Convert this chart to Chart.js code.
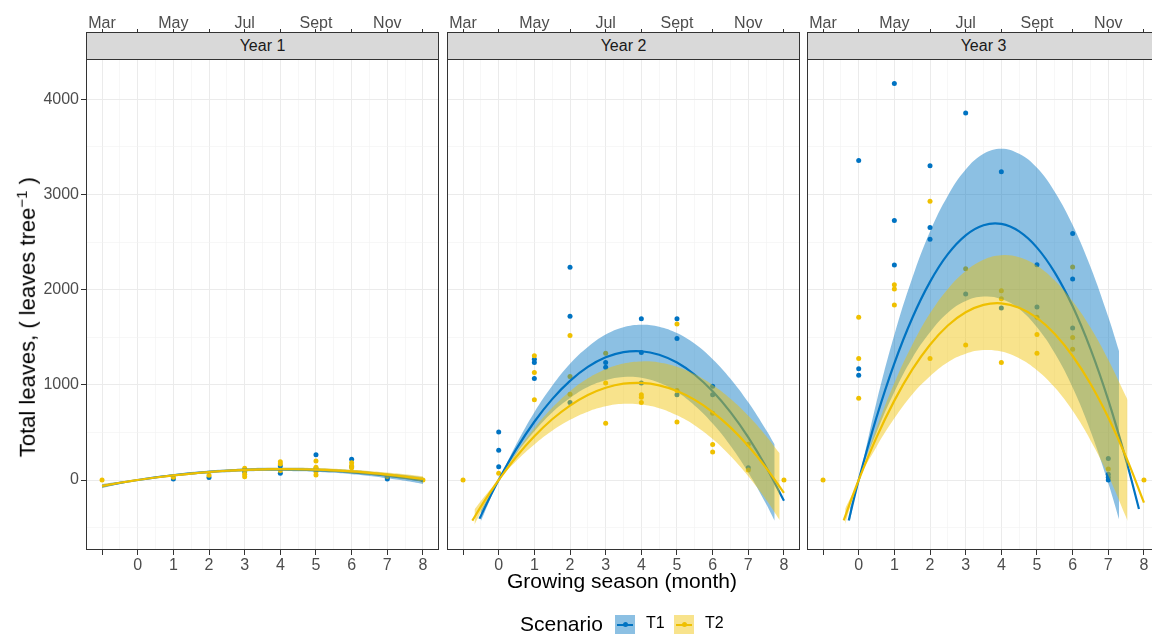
<!DOCTYPE html>
<html>
<head>
<meta charset="utf-8">
<script src="https://cdn.jsdelivr.net/npm/chart.js@4.4.1/dist/chart.umd.min.js"></script>
<style>
  html, body { margin: 0; padding: 0; background: #fff; overflow: hidden; }
  body { width: 1152px; height: 635px; position: relative; font-family: "Liberation Sans", Arial, sans-serif; }
  canvas { position: absolute; top: 0; }
  .strip { position: absolute; top: 32px; height: 28px; box-sizing: border-box; background: #D9D9D9;
           border: 1px solid #333; text-align: center; line-height: 26px; font-size: 16px; color: #1A1A1A; }
  .frame { position: absolute; top: 59px; height: 491px; box-sizing: border-box; border: 1px solid #333; }
  .title { position: absolute; font-size: 21px; color: #000; white-space: nowrap; }
  .key { position: absolute; top: 615px; width: 20px; height: 19px; }
  .key .ln { position: absolute; left: 2px; right: 2px; top: 8.5px; height: 2px; }
  .key .dt { position: absolute; left: 7.5px; top: 7px; width: 5px; height: 5px; border-radius: 50%; }
  .lab { position: absolute; top: 614px; font-size: 16px; color: #000; }
</style>
</head>
<body>
<canvas id="p1" width="441" height="600" style="left:0px"></canvas>
<canvas id="p2" width="363" height="600" style="left:439px"></canvas>
<canvas id="p3" width="363" height="600" style="left:799px"></canvas>
<div id="overlay"></div>

<div class="title" style="left:507px; top:569px;">Growing season (month)</div>
<div class="title" style="left:-173px; top:303px; width:400px; text-align:center; font-size:22px; transform:rotate(-90deg);">Total leaves, ( leaves tree<sup style="font-size:15px">−1</sup> )</div>

<div class="title" style="left:520px; top:612px;">Scenario</div>
<div class="key" style="left:615px; background:rgba(0,115,194,0.45)"><div class="ln" style="background:#0073C2"></div><div class="dt" style="background:#0073C2"></div></div>
<div class="lab" style="left:646px;">T1</div>
<div class="key" style="left:674px; background:rgba(239,192,0,0.45)"><div class="ln" style="background:#EFC000"></div><div class="dt" style="background:#EFC000"></div></div>
<div class="lab" style="left:705px;">T2</div>

<script>
// Axis ticks
const xGrid = [-1, -0.5, 0, 0.5, 1, 1.5, 2, 2.5, 3, 3.5, 4, 4.5, 5, 5.5, 6, 6.5, 7, 7.5, 8];
const topTicks = [-1, 0, 1, 2, 3, 4, 5, 6, 7, 8];
const monthLabels = ['Mar', '', 'May', '', 'Jul', '', 'Sept', '', 'Nov', ''];
const yGrid = [-500, 0, 500, 1000, 1500, 2000, 2500, 3000, 3500, 4000, 4500];
const panelTitles = ['Year 1', 'Year 2', 'Year 3'];

// Observations [month, leaves]
const y1T1Points = [[1, 10], [2, 25], [3, 88], [4, 147], [4, 70], [5, 266], [5, 120], [6, 217], [6, 140], [7, 10], [7, 25]];
const y1T2Points = [[-1, 0], [1, 30], [2, 50], [3, 123], [3, 100], [3, 60], [3, 35], [4, 193], [4, 168], [4, 100],
                    [5, 200], [5, 133], [5, 88], [5, 53], [6, 180], [6, 150], [6, 130], [7, 40], [8, 0]];
const y2T1Points = [[0, 505], [0, 312], [0, 140], [1, 1270], [1, 1235], [1, 1067], [2, 2235], [2, 1720], [2, 814],
                    [3, 1235], [3, 1186], [4, 1695], [4, 1340], [4, 1018], [5, 1695], [5, 1488], [5, 895],
                    [6, 986], [6, 895], [7, 130]];
const y2T2Points = [[-1, 0], [0, 70], [1, 1305], [1, 1130], [1, 842], [2, 1519], [2, 1088], [2, 902], [3, 1333],
                    [3, 1018], [3, 597], [4, 895], [4, 870], [4, 814], [5, 1639], [5, 940], [5, 610],
                    [6, 702], [6, 372], [6, 295], [7, 375], [7, 105], [8, 0]];
const y3T1Points = [[0, 3358], [0, 1168], [0, 1102], [1, 4165], [1, 2726], [1, 2260], [2, 3302], [2, 2653], [2, 2530],
                    [3, 3856], [3, 1954], [4, 3239], [4, 1807], [5, 2263], [5, 1818], [6, 2589], [6, 2112],
                    [6, 1596], [7, 225], [7, 60], [7, 28], [7, 0]];
const y3T2Points = [[-1, 0], [0, 1709], [0, 1277], [0, 860], [1, 2052], [1, 2007], [1, 1839], [2, 2930], [2, 1277],
                    [3, 2221], [3, 1418], [4, 1989], [4, 1905], [4, 1235], [5, 1709], [5, 1530], [5, 1333],
                    [6, 2239], [6, 1498], [6, 1375], [7, 116], [8, 0]];

// Fitted curves and confidence bands
const y1FitX  = [-1, -0.5, 0, 0.5, 1, 1.5, 2, 2.5, 3, 3.5, 4, 4.5, 5, 5.5, 6, 6.5, 7, 7.5, 8];
const y1T1Fit = [-64, -30, 0, 27, 50, 69, 85, 97, 106, 111, 112, 110, 104, 95, 82, 66, 45, 22, -6];
const y1T1Lo  = [-86, -42, -3, 19, 38, 55, 70, 81, 90, 94, 95, 92, 85, 75, 60, 42, 18, -9, -42];
const y1T1Hi  = [-42, -18, 3, 35, 62, 83, 100, 113, 122, 128, 129, 128, 123, 115, 104, 90, 72, 53, 30];
const y1T2Fit = [-63, -29, 0, 26, 49, 68, 84, 97, 106, 112, 114, 113, 109, 101, 90, 75, 57, 36, 11];
const y1T2Lo  = [-81, -39, -3, 19, 39, 56, 71, 83, 92, 97, 99, 98, 93, 84, 72, 55, 35, 11, -17];
const y1T2Hi  = [-45, -19, 3, 33, 59, 80, 97, 111, 120, 127, 129, 128, 125, 118, 108, 95, 79, 61, 39];

const y2T1FitX = [-0.54, -0.25, 0, 0.5, 1, 1.5, 2, 2.5, 3, 3.5, 4, 4.5, 5, 5.5, 6, 6.5, 7, 7.5, 8];
const y2T1Fit  = [-407, -182, 0, 329, 612, 850, 1042, 1188, 1289, 1344, 1353, 1316, 1234, 1106, 932, 713, 448, 137, -219];
const y2T1BandX = [-0.5, -0.25, 0, 0.5, 1, 1.5, 2, 2.5, 3, 3.5, 4, 4.5, 5, 5.5, 6, 6.5, 7, 7.5, 7.74];
const y2T1Lo   = [-433, -212, -5, 278, 512, 710, 862, 978, 1049, 1082, 1074, 1021, 924, 781, 594, 361, 80, -251, -428];
const y2T1Hi   = [-317, -152, 5, 380, 712, 990, 1222, 1398, 1529, 1606, 1632, 1611, 1544, 1431, 1270, 1065, 816, 525, 372];
const y2T2FitX = [-0.74, -0.5, -0.25, 0, 0.5, 1, 1.5, 2, 2.5, 3, 3.5, 4, 4.5, 5, 5.5, 6, 6.5, 7, 7.5, 8];
const y2T2Fit  = [-427, -280, -136, 0, 247, 459, 638, 782, 893, 969, 1012, 1020, 995, 935, 842, 714, 553, 357, 128, -136];
const y2T2BandX = [-0.68, -0.5, -0.25, 0, 0.5, 1, 1.5, 2, 2.5, 3, 3.5, 4, 4.5, 5, 5.5, 6, 6.5, 7, 7.5, 7.88];
const y2T2Lo   = [-470, -340, -166, -5, 202, 374, 518, 632, 718, 774, 800, 794, 755, 680, 574, 431, 253, 40, -207, -420];
const y2T2Hi   = [-310, -220, -106, 5, 292, 544, 758, 932, 1068, 1164, 1224, 1246, 1235, 1190, 1110, 997, 853, 674, 463, 280];

const y3T1FitX = [-0.28, 0, 0.5, 1, 1.5, 2, 2.5, 3, 3.5, 4, 4.5, 5, 5.5, 6, 6.5, 7, 7.5, 7.86];
const y3T1Fit  = [-425, 0, 659, 1226, 1700, 2082, 2373, 2571, 2677, 2691, 2612, 2442, 2179, 1825, 1378, 839, 207, -304];
const y3T1BandX = [-0.25, 0, 0.5, 1, 1.5, 2, 2.5, 3, 3.5, 4, 4.5, 5, 5.5, 6, 6.5, 7, 7.3];
const y3T1Lo   = [-440, -5, 499, 925, 1280, 1552, 1758, 1880, 1927, 1901, 1797, 1604, 1331, 971, 516, -34, -413];
const y3T1Hi   = [-300, 5, 819, 1527, 2120, 2612, 2988, 3262, 3427, 3481, 3427, 3280, 3027, 2679, 2240, 1712, 1355];
const y3T2FitX = [-0.42, 0, 0.5, 1, 1.5, 2, 2.5, 3, 3.5, 4, 4.5, 5, 5.5, 6, 6.5, 7, 7.5, 8];
const y3T2Fit  = [-424, 0, 448, 834, 1159, 1421, 1623, 1762, 1840, 1856, 1810, 1703, 1534, 1303, 1011, 656, 241, -237];
const y3T2BandX = [-0.38, 0, 0.5, 1, 1.5, 2, 2.5, 3, 3.5, 4, 4.5, 5, 5.5, 6, 6.5, 7, 7.5, 7.54];
const y3T2Lo   = [-462, -5, 350, 648, 899, 1091, 1238, 1327, 1365, 1350, 1280, 1154, 971, 727, 419, 48, -392, -430];
const y3T2Hi   = [-302, 5, 546, 1020, 1419, 1751, 2008, 2197, 2315, 2362, 2340, 2252, 2097, 1879, 1603, 1264, 874, 840];

const T1_COLOR = '#0073C2';
const T2_COLOR = '#EFC000';
const T1_FILL = 'rgba(0,115,194,0.45)';
const T2_FILL = 'rgba(239,192,0,0.45)';
const FONT = { family: '"Liberation Sans", Arial, sans-serif', size: 16 };

// panel geometry (left edge of plot box, width)
const panelLeft = [86, 447, 807];
const panelWidth = 353;

function xy(xs, ys) {
    return xs.map((x, i) => ({ x: x, y: ys[i] }));
}

function pts(list) {
    return list.map(p => ({ x: p[0], y: p[1] }));
}

function buildDatasets(s) {
    return [
        { data: xy(s.t1BandX, s.t1Hi), fill: '+1', backgroundColor: T1_FILL, borderWidth: 0, pointRadius: 0, tension: 0.4, order: 7 },
        { data: xy(s.t1BandX, s.t1Lo), fill: false, borderWidth: 0, pointRadius: 0, tension: 0.4, order: 6 },
        { data: xy(s.t1FitX, s.t1Fit), fill: false, borderColor: T1_COLOR, borderWidth: 2.2, pointRadius: 0, tension: 0.4, order: 5 },
        { data: xy(s.t2BandX, s.t2Hi), fill: '+1', backgroundColor: T2_FILL, borderWidth: 0, pointRadius: 0, tension: 0.4, order: 4 },
        { data: xy(s.t2BandX, s.t2Lo), fill: false, borderWidth: 0, pointRadius: 0, tension: 0.4, order: 3 },
        { data: xy(s.t2FitX, s.t2Fit), fill: false, borderColor: T2_COLOR, borderWidth: 2.2, pointRadius: 0, tension: 0.4, order: 2 },
        { data: pts(s.t1Points), showLine: false, pointRadius: 2.5, pointBorderWidth: 0, backgroundColor: T1_COLOR, borderColor: T1_COLOR, order: 9 },
        { data: pts(s.t2Points), showLine: false, pointRadius: 2.5, pointBorderWidth: 0, backgroundColor: T2_COLOR, borderColor: T2_COLOR, order: 8 }
    ];
}

function makePanel(canvasId, series, showY) {
    const yWidth = showY ? 86 : 8;
    const ctx = document.getElementById(canvasId).getContext('2d');
    new Chart(ctx, {
        type: 'line',
        data: { datasets: buildDatasets(series) },
        options: {
            responsive: false,
            animation: false,
            layout: { padding: { left: 0, right: 2, top: 0, bottom: 0 }, autoPadding: false },
            plugins: { legend: { display: false }, tooltip: { enabled: false } },
            scales: {
                x: {
                    type: 'linear', position: 'bottom', min: -1.45, max: 8.45,
                    afterBuildTicks: s => { s.ticks = xGrid.map(v => ({ value: v })); },
                    afterFit: s => { s.height = 50; },
                    ticks: {
                        autoSkip: false, maxRotation: 0, padding: 1, color: '#4D4D4D', font: FONT,
                        callback: v => (Number.isInteger(v) && v >= 0) ? String(v) : ''
                    },
                    grid: {
                        color: c => Number.isInteger(c.tick.value) ? '#EBEBEB' : '#F2F2F2',
                        lineWidth: c => Number.isInteger(c.tick.value) ? 1 : 0.6,
                        tickLength: 5, tickWidth: 1,
                        tickColor: c => Number.isInteger(c.tick.value) ? '#333' : 'rgba(0,0,0,0)'
                    },
                    border: { display: false }
                },
                x2: {
                    type: 'linear', position: 'top', min: -1.45, max: 8.45,
                    afterBuildTicks: s => { s.ticks = topTicks.map(v => ({ value: v })); },
                    afterFit: s => { s.height = 32; },
                    ticks: {
                        autoSkip: false, maxRotation: 0, padding: -4, color: '#4D4D4D', font: FONT,
                        callback: (v, i) => monthLabels[i]
                    },
                    grid: { drawOnChartArea: false, tickLength: 3, tickWidth: 1, tickColor: '#333' },
                    border: { display: false }
                },
                y: {
                    type: 'linear', position: 'left', min: -735.5, max: 4707.4,
                    afterBuildTicks: s => { s.ticks = yGrid.map(v => ({ value: v })); },
                    afterFit: s => { s.width = yWidth; },
                    ticks: {
                        display: showY, padding: 2, color: '#4D4D4D', font: FONT,
                        callback: v => (v % 1000 === 0) ? String(v) : ''
                    },
                    grid: {
                        color: c => (c.tick.value % 1000 === 0) ? '#EBEBEB' : '#F2F2F2',
                        lineWidth: c => (c.tick.value % 1000 === 0) ? 1 : 0.6,
                        drawTicks: showY, tickLength: 5, tickWidth: 1,
                        tickColor: c => (c.tick.value % 1000 === 0) ? '#333' : 'rgba(0,0,0,0)'
                    },
                    border: { display: false }
                }
            }
        }
    });
}

// strips and panel frames
const overlay = document.getElementById('overlay');
panelLeft.forEach((left, i) => {
    const strip = document.createElement('div');
    strip.className = 'strip';
    strip.style.left = left + 'px';
    strip.style.width = panelWidth + 'px';
    strip.textContent = panelTitles[i];
    overlay.appendChild(strip);
    const frame = document.createElement('div');
    frame.className = 'frame';
    frame.style.left = left + 'px';
    frame.style.width = panelWidth + 'px';
    overlay.appendChild(frame);
});

makePanel('p1', {
    t1Points: y1T1Points, t2Points: y1T2Points,
    t1FitX: y1FitX, t1Fit: y1T1Fit, t1BandX: y1FitX, t1Lo: y1T1Lo, t1Hi: y1T1Hi,
    t2FitX: y1FitX, t2Fit: y1T2Fit, t2BandX: y1FitX, t2Lo: y1T2Lo, t2Hi: y1T2Hi
}, true);

makePanel('p2', {
    t1Points: y2T1Points, t2Points: y2T2Points,
    t1FitX: y2T1FitX, t1Fit: y2T1Fit, t1BandX: y2T1BandX, t1Lo: y2T1Lo, t1Hi: y2T1Hi,
    t2FitX: y2T2FitX, t2Fit: y2T2Fit, t2BandX: y2T2BandX, t2Lo: y2T2Lo, t2Hi: y2T2Hi
}, false);

makePanel('p3', {
    t1Points: y3T1Points, t2Points: y3T2Points,
    t1FitX: y3T1FitX, t1Fit: y3T1Fit, t1BandX: y3T1BandX, t1Lo: y3T1Lo, t1Hi: y3T1Hi,
    t2FitX: y3T2FitX, t2Fit: y3T2Fit, t2BandX: y3T2BandX, t2Lo: y3T2Lo, t2Hi: y3T2Hi
}, false);
</script>
</body>
</html>
